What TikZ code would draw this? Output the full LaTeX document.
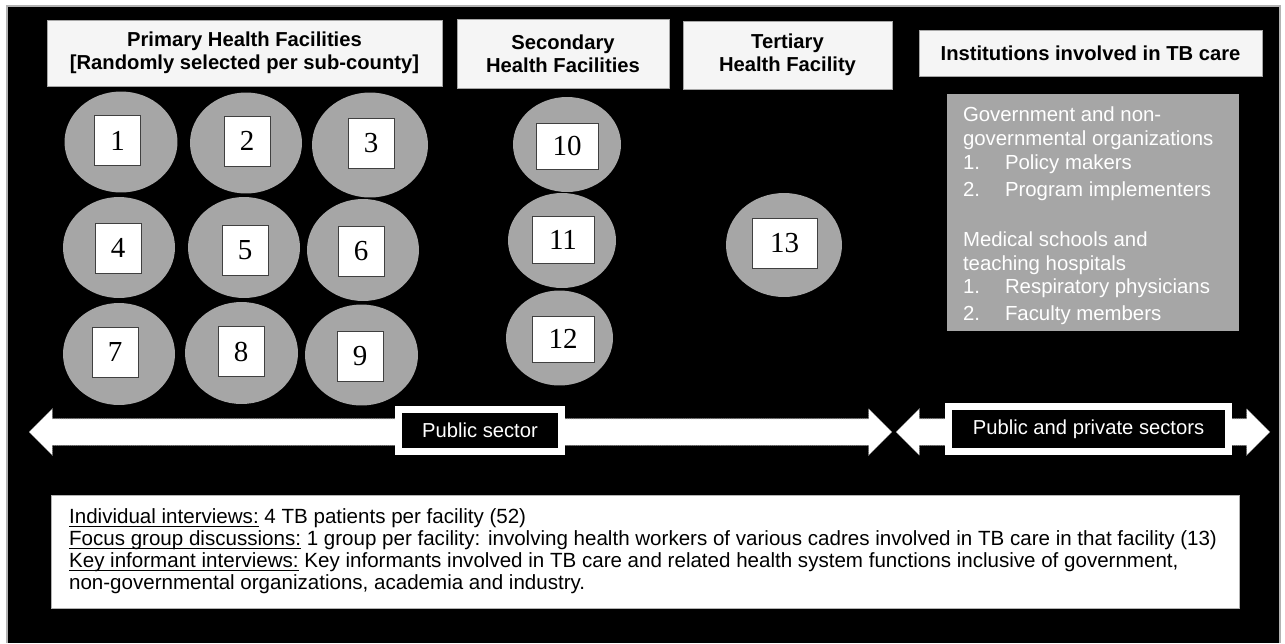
\documentclass[tikz,border=0pt]{standalone}
\usepackage{fontspec}
\setmainfont{Liberation Sans}
\newfontfamily\numfont{Liberation Serif}
\usetikzlibrary{shapes.geometric,shapes.arrows}
\definecolor{disc}{gray}{0.65}
\definecolor{pale}{gray}{0.96}
% underlined label with the rule just under the baseline
\newsavebox\lblbox
\newcommand\lbl[1]{\sbox\lblbox{#1}\rlap{\rule[-1.9pt]{\wd\lblbox}{0.45pt}}\usebox\lblbox}
\begin{document}
\begin{tikzpicture}[x=0.02cm, y=-0.02cm,
  site/.style = {ellipse, fill=disc, inner sep=0},
  num/.style = {draw=black!75, fill=white, inner sep=0, minimum width=0.92cm, minimum height=1cm, font=\numfont\fontsize{16.5}{18}\selectfont},
  head/.style = {draw=black!35, fill=pale, align=center, font=\bfseries\fontsize{11.5}{13}\selectfont},
  band/.style = {double arrow, double arrow head extend=0.2cm, fill=white, draw=black!45, dash pattern=on 0.6pt off 0.6pt, line width=0.3pt, inner xsep=0, inner ysep=0.26cm},
  sector/.style = {fill=black, draw=white, line width=0.14cm, text=white, font=\fontsize{11.5}{13}\selectfont}]
\useasboundingbox (0,0) rectangle (1285,643);
% frame
\fill[black] (7,6) rectangle (1280,643);
\draw[black!30, line width=0.04cm] (7,643) -- (7,6) -- (1280,6) -- (1280,643);

% column headings
\node[head, minimum width=7.9cm, minimum height=1.32cm] (prim) at (244.5,53) {Primary Health Facilities\\{}[Randomly selected per sub-county]};
\node[head, minimum width=4.24cm, minimum height=1.38cm] (sec) at (563,53.5) {Secondary\\Health Facilities};
\node[head, minimum width=4.18cm, minimum height=1.36cm] (ter) at (787.5,55) {Tertiary\\Health Facility};
\node[head, minimum width=6.86cm, minimum height=0.92cm] (inst) at (1090.5,53) {Institutions involved in TB care};

% primary facilities
\node[site, minimum width=2.26cm, minimum height=2.02cm] (c1) at (121,142) {};
\node[site, minimum width=2.24cm, minimum height=2.02cm] (c2) at (246,143) {};
\node[site, minimum width=2.32cm, minimum height=2.1cm] (c3) at (370,145) {};
\node[site, minimum width=2.24cm, minimum height=2.02cm] (c4) at (119,247.5) {};
\node[site, minimum width=2.24cm, minimum height=2.02cm] (c5) at (244,247.5) {};
\node[site, minimum width=2.24cm, minimum height=2.04cm] (c6) at (363,250) {};
\node[site, minimum width=2.24cm, minimum height=2.04cm] (c7) at (119,354) {};
\node[site, minimum width=2.26cm, minimum height=2.04cm] (c8) at (241.5,353) {};
\node[site, minimum width=2.26cm, minimum height=2.02cm] (c9) at (361.5,355) {};
\node[num] (n1) at (117.5,140.5) {1};
\node[num] (n2) at (247,141) {2};
\node[num] (n3) at (371,143.5) {3};
\node[num] (n4) at (118,248) {4};
\node[num] (n5) at (245,250.5) {5};
\node[num] (n6) at (361,251.5) {6};
\node[num] (n7) at (115,352.5) {7};
\node[num] (n8) at (241,351.5) {8};
\node[num] (n9) at (360,356) {9};

% secondary and tertiary facilities
\node[site, minimum width=2.16cm, minimum height=1.9cm] (c10) at (567,144.5) {};
\node[site, minimum width=2.16cm, minimum height=1.9cm] (c11) at (562,240.5) {};
\node[site, minimum width=2.14cm, minimum height=1.9cm] (c12) at (559.5,338) {};
\node[site, minimum width=2.32cm, minimum height=2.08cm] (c13) at (784,245) {};
\node[num, minimum width=1.24cm, minimum height=0.92cm] (n10) at (567,146) {10};
\node[num, minimum width=1.24cm, minimum height=0.94cm] (n11) at (563,239.5) {11};
\node[num, minimum width=1.24cm, minimum height=0.92cm] (n12) at (563,339) {12};
\node[num, minimum width=1.3cm, minimum height=1cm] (n13) at (784.5,243) {13};

% institutions
\node[fill=disc, minimum width=5.84cm, minimum height=4.74cm] (orgs) at (1093,212.5) {};
\node[anchor=west, inner sep=0, align=left, text=white, font=\fontsize{11.6}{13.5}\selectfont] (orgtext) at ([xshift=0.32cm, yshift=-0.07cm]orgs.west)
  {Government and non-\\
   governmental organizations\\
   \makebox[0.84cm][l]{1.}Policy makers\\[2pt]
   \makebox[0.84cm][l]{2.}Program implementers\\[15pt]
   Medical schools and\\
   teaching hospitals\\
   \makebox[0.84cm][l]{1.}Respiratory physicians\\[2pt]
   \makebox[0.84cm][l]{2.}Faculty members};

% sectors
\node[band, minimum height=17.26cm] (pubband) at (460.5,432) {};
\node[band, minimum height=7.48cm] (mixband) at (1083,432) {};
\node[sector, minimum width=3.26cm, minimum height=0.84cm] (pub) at (480,430.5) {Public sector};
\node[sector, minimum width=5.61cm, minimum height=0.9cm] (mix) at (1088.5,429) {Public and private sectors};

% data collection
\node[fill=white, draw=black!30, minimum width=23.76cm, minimum height=2.26cm] (notes) at (645,551.5) {};
\node[anchor=west, inner sep=0, align=left, font=\fontsize{11.7}{12.5}\selectfont] (notetext) at ([xshift=0.36cm]notes.west)
  {\lbl{Individual interviews:} 4 TB patients per facility (52)\\
   \lbl{Focus group discussions:} 1 group per facility: involving health workers of various cadres involved in TB care in that facility (13)\\
   \lbl{Key informant interviews:} Key informants involved in TB care and related health system functions inclusive of government,\\
   non-governmental organizations, academia and industry.};
\end{tikzpicture}
\end{document}
